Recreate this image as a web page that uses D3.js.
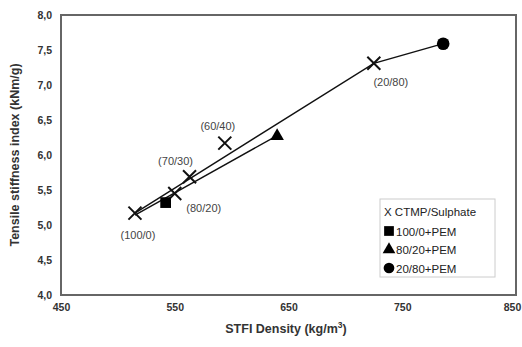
<!DOCTYPE html>
<html>
<head>
<meta charset="utf-8">
<script src="https://cdn.jsdelivr.net/npm/d3@7"></script>
<style>
  body { margin: 0; background: #fff; }
  svg { font-family: "Liberation Sans", Arial, sans-serif; }
</style>
</head>
<body>
<div id="chart"></div>
<script>
// values
const blends = ["100/0", "80/20", "70/30", "60/40", "20/80"];
const blendDensity = [515, 550, 563, 594, 725];
const blendStiffness = [5.17, 5.45, 5.69, 6.17, 7.31];

const pemSeries = ["100/0+PEM", "80/20+PEM", "20/80+PEM"];
const pemDensity = [542, 640, 786];
const pemStiffness = [5.32, 6.27, 7.59];
const pemSymbols = ["square", "triangle", "circle"];

// trend lines (density, stiffness)
const upperLine = [[515, 5.17], [725, 7.31], [786, 7.59]];
const lowerLine = [[515, 5.14], [638, 6.26]];

const xTicks = [450, 550, 650, 750, 850];
const yTicks = [4.0, 4.5, 5.0, 5.5, 6.0, 6.5, 7.0, 7.5, 8.0];

const width = 522;
const height = 347;
const margin = {top: 15, right: 6, bottom: 52, left: 61};

// label offsets in px relative to the marker
const labelOffset = {
  "100/0": [3, 26], "80/20": [29, 18], "70/30": [-14, -12],
  "60/40": [-7, -13], "20/80": [17, 23]
};

const svg = d3.select("#chart")
  .append("svg")
  .attr("width", width)
  .attr("height", height);

const x = d3.scaleLinear().domain([450, 850]).range([margin.left, width - margin.right]);
const y = d3.scaleLinear().domain([4, 8]).range([height - margin.bottom, margin.top]);

// frame
svg.append("rect")
  .attr("x", x(450)).attr("y", y(8))
  .attr("width", x(850) - x(450)).attr("height", y(4) - y(8))
  .attr("fill", "none").attr("stroke", "#666").attr("stroke-width", 2);

// axes, just for the labels
const fmt = d => d3.format(".1f")(d).replace(".", ",");
const yAxis = svg.append("g")
  .attr("transform", `translate(${x(450)},0)`)
  .call(d3.axisLeft(y).tickValues(yTicks).tickFormat(fmt).tickSize(0).tickPadding(9));
const xAxis = svg.append("g")
  .attr("transform", `translate(0,${y(4)})`)
  .call(d3.axisBottom(x).tickValues(xTicks).tickFormat(d3.format("d")).tickSize(0).tickPadding(9));
[xAxis, yAxis].forEach(a => {
  a.select(".domain").remove();
  a.selectAll("text")
    .attr("font-family", "Liberation Sans, Arial, sans-serif")
    .attr("font-size", 10.5).attr("font-weight", "bold").attr("fill", "#333");
});
// last label sits against the right edge
xAxis.selectAll(".tick text").filter(d => d === 850).attr("dx", -4);

// axis titles
svg.append("text")
  .attr("transform", `translate(19,${(y(4) + y(8)) / 2}) rotate(-90)`)
  .attr("text-anchor", "middle")
  .attr("font-size", 12.5).attr("font-weight", "bold").attr("fill", "#333")
  .text("Tensile stiffness index (kNm/g)");

const xt = svg.append("text")
  .attr("x", 286).attr("y", 333)
  .attr("text-anchor", "middle")
  .attr("font-size", 12.5).attr("font-weight", "bold").attr("fill", "#333");
xt.append("tspan").text("STFI Density (kg/m");
xt.append("tspan").attr("font-size", 8.5).attr("dy", -5).text("3");
xt.append("tspan").attr("dy", 5).text(")");

// lines
const line = d3.line().x(d => x(d[0])).y(d => y(d[1]));
[upperLine, lowerLine].forEach(l => {
  svg.append("path").attr("d", line(l))
    .attr("fill", "none").attr("stroke", "#111").attr("stroke-width", 1.4);
});

// X markers
const blendData = blends.map((b, i) => ({name: b, dx: blendDensity[i], ti: blendStiffness[i]}));
const s = 6.5;
const xg = svg.append("g").selectAll("g").data(blendData).join("g")
  .attr("transform", d => `translate(${x(d.dx)},${y(d.ti)})`);
xg.append("path")
  .attr("d", `M${-s},${-s}L${s},${s}M${-s},${s}L${s},${-s}`)
  .attr("stroke", "#111").attr("stroke-width", 2).attr("fill", "none");
xg.append("text")
  .attr("x", d => labelOffset[d.name][0])
  .attr("y", d => labelOffset[d.name][1])
  .attr("text-anchor", "middle")
  .attr("font-size", 11).attr("fill", "#444")
  .text(d => `(${d.name})`);

// PEM markers
const symbolType = {square: d3.symbolSquare, triangle: d3.symbolTriangle, circle: d3.symbolCircle};
const symbolSize = {square: 115, triangle: 80, circle: 125};
const pemData = pemSeries.map((p, i) => ({name: p, dx: pemDensity[i], ti: pemStiffness[i], sym: pemSymbols[i]}));
svg.append("g").selectAll("path").data(pemData).join("path")
  .attr("transform", d => `translate(${x(d.dx)},${y(d.ti)})`)
  .attr("d", d => d3.symbol(symbolType[d.sym], symbolSize[d.sym])())
  .attr("fill", "#000");

// legend
const lg = svg.append("g").attr("transform", "translate(380,199)");
lg.append("rect").attr("width", 115).attr("height", 78)
  .attr("fill", "#fff").attr("stroke", "#ccc").attr("stroke-width", 1);
lg.append("text").attr("x", 4).attr("y", 16.5)
  .attr("font-size", 11.5).attr("fill", "#222").text("X CTMP/Sulphate");
const items = lg.selectAll("g.item").data(pemData).join("g").attr("class", "item")
  .attr("transform", (d, i) => `translate(0,${32 + i * 18.5})`);
items.append("path")
  .attr("transform", "translate(9,0)")
  .attr("d", d => d3.symbol(symbolType[d.sym], {square: 95, triangle: 70, circle: 90}[d.sym])())
  .attr("fill", "#000");
items.append("text").attr("x", 16).attr("y", 4.5)
  .attr("font-size", 11.5).attr("fill", "#222").text(d => d.name);
</script>
</body>
</html>
